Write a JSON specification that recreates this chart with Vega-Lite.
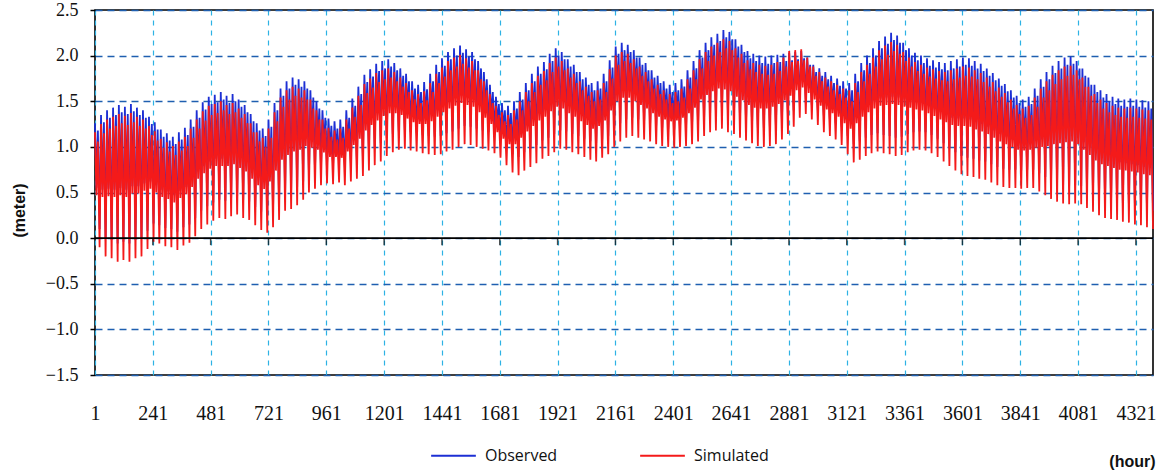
{
"$schema":"https://vega.github.io/schema/vega-lite/v6.json",
"width":1058,"height":365,
"autosize":{"type":"none"},
"padding":{"left":95,"top":10,"right":9,"bottom":96},
"background":"white",
"data":{"values":[
{"t":1,"o":1.26,"s":1.16},{"t":7,"o":0.55,"s":0.47},{"t":13,"o":1.18,"s":1.06},{"t":20,"o":0.1,"s":-0.1},
{"t":26,"o":1.35,"s":1.25},{"t":32,"o":0.53,"s":0.45},{"t":38,"o":1.27,"s":1.15},{"t":45,"o":0.0,"s":-0.2},
{"t":51,"o":1.4,"s":1.3},{"t":57,"o":0.54,"s":0.46},{"t":63,"o":1.32,"s":1.2},{"t":70,"o":-0.02,"s":-0.22},
{"t":76,"o":1.43,"s":1.33},{"t":82,"o":0.53,"s":0.45},{"t":88,"o":1.35,"s":1.23},{"t":95,"o":-0.06,"s":-0.26},
{"t":100,"o":1.46,"s":1.36},{"t":106,"o":0.55,"s":0.47},{"t":112,"o":1.38,"s":1.26},{"t":119,"o":-0.04,"s":-0.24},
{"t":125,"o":1.44,"s":1.34},{"t":131,"o":0.53,"s":0.45},{"t":137,"o":1.36,"s":1.24},{"t":144,"o":-0.06,"s":-0.26},
{"t":150,"o":1.47,"s":1.37},{"t":156,"o":0.57,"s":0.49},{"t":162,"o":1.39,"s":1.27},{"t":169,"o":-0.02,"s":-0.22},
{"t":175,"o":1.43,"s":1.33},{"t":181,"o":0.57,"s":0.49},{"t":187,"o":1.35,"s":1.23},{"t":194,"o":0.0,"s":-0.2},
{"t":200,"o":1.4,"s":1.3},{"t":206,"o":0.6,"s":0.52},{"t":212,"o":1.32,"s":1.2},{"t":219,"o":0.08,"s":-0.12},
{"t":225,"o":1.33,"s":1.23},{"t":231,"o":0.62,"s":0.54},{"t":237,"o":1.25,"s":1.13},{"t":244,"o":0.16,"s":-0.04},
{"t":249,"o":1.27,"s":1.17},{"t":255,"o":0.58,"s":0.5},{"t":261,"o":1.19,"s":1.07},{"t":268,"o":0.14,"s":-0.06},
{"t":274,"o":1.19,"s":1.09},{"t":280,"o":0.53,"s":0.45},{"t":286,"o":1.11,"s":0.99},{"t":293,"o":0.11,"s":-0.09},
{"t":299,"o":1.15,"s":1.05},{"t":305,"o":0.51,"s":0.43},{"t":311,"o":1.07,"s":0.95},{"t":318,"o":0.1,"s":-0.1},
{"t":324,"o":1.11,"s":1.01},{"t":330,"o":0.47,"s":0.39},{"t":336,"o":1.03,"s":0.91},{"t":343,"o":0.07,"s":-0.13},
{"t":349,"o":1.16,"s":1.06},{"t":355,"o":0.52,"s":0.44},{"t":361,"o":1.08,"s":0.96},{"t":368,"o":0.12,"s":-0.08},
{"t":374,"o":1.21,"s":1.11},{"t":380,"o":0.56,"s":0.48},{"t":386,"o":1.13,"s":1.01},{"t":393,"o":0.15,"s":-0.05},
{"t":398,"o":1.3,"s":1.2},{"t":404,"o":0.64,"s":0.56},{"t":410,"o":1.22,"s":1.1},{"t":417,"o":0.22,"s":0.02},
{"t":423,"o":1.4,"s":1.3},{"t":429,"o":0.73,"s":0.65},{"t":435,"o":1.32,"s":1.2},{"t":442,"o":0.3,"s":0.1},
{"t":448,"o":1.49,"s":1.39},{"t":454,"o":0.79,"s":0.71},{"t":460,"o":1.41,"s":1.29},{"t":467,"o":0.35,"s":0.15},
{"t":473,"o":1.55,"s":1.45},{"t":479,"o":0.84,"s":0.76},{"t":485,"o":1.47,"s":1.35},{"t":492,"o":0.39,"s":0.19},
{"t":498,"o":1.57,"s":1.47},{"t":504,"o":0.87,"s":0.79},{"t":510,"o":1.49,"s":1.37},{"t":517,"o":0.42,"s":0.22},
{"t":523,"o":1.6,"s":1.5},{"t":529,"o":0.87,"s":0.79},{"t":535,"o":1.52,"s":1.4},{"t":542,"o":0.41,"s":0.21},
{"t":547,"o":1.56,"s":1.46},{"t":553,"o":0.87,"s":0.79},{"t":559,"o":1.48,"s":1.36},{"t":566,"o":0.44,"s":0.24},
{"t":572,"o":1.58,"s":1.48},{"t":578,"o":0.89,"s":0.81},{"t":584,"o":1.5,"s":1.38},{"t":591,"o":0.46,"s":0.26},
{"t":597,"o":1.52,"s":1.42},{"t":603,"o":0.85,"s":0.77},{"t":609,"o":1.44,"s":1.32},{"t":616,"o":0.42,"s":0.22},
{"t":622,"o":1.46,"s":1.36},{"t":628,"o":0.81,"s":0.73},{"t":634,"o":1.38,"s":1.26},{"t":641,"o":0.4,"s":0.2},
{"t":647,"o":1.36,"s":1.26},{"t":653,"o":0.73,"s":0.65},{"t":659,"o":1.28,"s":1.16},{"t":666,"o":0.34,"s":0.14},
{"t":672,"o":1.26,"s":1.16},{"t":678,"o":0.66,"s":0.58},{"t":684,"o":1.18,"s":1.06},{"t":691,"o":0.29,"s":0.09},
{"t":697,"o":1.2,"s":1.1},{"t":703,"o":0.62,"s":0.54},{"t":709,"o":1.12,"s":1.0},{"t":716,"o":0.26,"s":0.06},
{"t":721,"o":1.3,"s":1.2},{"t":727,"o":0.7,"s":0.62},{"t":733,"o":1.22,"s":1.1},{"t":740,"o":0.32,"s":0.12},
{"t":746,"o":1.48,"s":1.38},{"t":752,"o":0.82,"s":0.74},{"t":758,"o":1.4,"s":1.28},{"t":765,"o":0.4,"s":0.2},
{"t":771,"o":1.64,"s":1.54},{"t":777,"o":0.94,"s":0.86},{"t":783,"o":1.56,"s":1.44},{"t":790,"o":0.5,"s":0.3},
{"t":796,"o":1.72,"s":1.62},{"t":802,"o":0.99,"s":0.91},{"t":808,"o":1.64,"s":1.52},{"t":815,"o":0.52,"s":0.32},
{"t":821,"o":1.76,"s":1.66},{"t":827,"o":1.03,"s":0.95},{"t":833,"o":1.68,"s":1.56},{"t":840,"o":0.56,"s":0.36},
{"t":846,"o":1.74,"s":1.64},{"t":852,"o":1.05,"s":0.97},{"t":858,"o":1.66,"s":1.54},{"t":865,"o":0.62,"s":0.42},
{"t":870,"o":1.72,"s":1.62},{"t":876,"o":1.09,"s":1.01},{"t":882,"o":1.64,"s":1.52},{"t":889,"o":0.7,"s":0.5},
{"t":895,"o":1.62,"s":1.52},{"t":901,"o":1.07,"s":0.99},{"t":907,"o":1.54,"s":1.42},{"t":914,"o":0.74,"s":0.54},
{"t":920,"o":1.5,"s":1.4},{"t":926,"o":1.05,"s":0.97},{"t":932,"o":1.42,"s":1.3},{"t":939,"o":0.78,"s":0.58},
{"t":945,"o":1.4,"s":1.3},{"t":951,"o":1.02,"s":0.94},{"t":957,"o":1.32,"s":1.2},{"t":964,"o":0.8,"s":0.6},
{"t":970,"o":1.31,"s":1.21},{"t":976,"o":0.97,"s":0.89},{"t":982,"o":1.23,"s":1.11},{"t":989,"o":0.79,"s":0.59},
{"t":995,"o":1.28,"s":1.18},{"t":1001,"o":0.97,"s":0.89},{"t":1007,"o":1.2,"s":1.08},{"t":1014,"o":0.81,"s":0.61},
{"t":1019,"o":1.3,"s":1.2},{"t":1025,"o":0.96,"s":0.88},{"t":1031,"o":1.22,"s":1.1},{"t":1038,"o":0.78,"s":0.58},
{"t":1044,"o":1.4,"s":1.3},{"t":1050,"o":1.03,"s":0.95},{"t":1056,"o":1.32,"s":1.2},{"t":1063,"o":0.82,"s":0.62},
{"t":1069,"o":1.53,"s":1.43},{"t":1075,"o":1.1,"s":1.02},{"t":1081,"o":1.45,"s":1.33},{"t":1088,"o":0.85,"s":0.65},
{"t":1094,"o":1.66,"s":1.56},{"t":1100,"o":1.17,"s":1.09},{"t":1106,"o":1.58,"s":1.46},{"t":1113,"o":0.88,"s":0.68},
{"t":1119,"o":1.79,"s":1.69},{"t":1125,"o":1.26,"s":1.18},{"t":1131,"o":1.71,"s":1.59},{"t":1138,"o":0.94,"s":0.74},
{"t":1143,"o":1.85,"s":1.75},{"t":1149,"o":1.32,"s":1.24},{"t":1155,"o":1.77,"s":1.65},{"t":1162,"o":1.0,"s":0.8},
{"t":1168,"o":1.91,"s":1.81},{"t":1174,"o":1.37,"s":1.29},{"t":1180,"o":1.83,"s":1.71},{"t":1187,"o":1.04,"s":0.84},
{"t":1193,"o":1.94,"s":1.84},{"t":1199,"o":1.42,"s":1.34},{"t":1205,"o":1.86,"s":1.74},{"t":1212,"o":1.1,"s":0.9},
{"t":1218,"o":1.96,"s":1.86},{"t":1224,"o":1.45,"s":1.37},{"t":1230,"o":1.88,"s":1.76},{"t":1237,"o":1.14,"s":0.94},
{"t":1243,"o":1.92,"s":1.82},{"t":1249,"o":1.45,"s":1.37},{"t":1255,"o":1.84,"s":1.72},{"t":1262,"o":1.17,"s":0.97},
{"t":1268,"o":1.86,"s":1.76},{"t":1274,"o":1.43,"s":1.35},{"t":1280,"o":1.78,"s":1.66},{"t":1287,"o":1.18,"s":0.98},
{"t":1292,"o":1.8,"s":1.7},{"t":1298,"o":1.39,"s":1.31},{"t":1304,"o":1.72,"s":1.6},{"t":1311,"o":1.16,"s":0.96},
{"t":1317,"o":1.72,"s":1.62},{"t":1323,"o":1.35,"s":1.27},{"t":1329,"o":1.64,"s":1.52},{"t":1336,"o":1.15,"s":0.95},
{"t":1342,"o":1.68,"s":1.58},{"t":1348,"o":1.33,"s":1.25},{"t":1354,"o":1.6,"s":1.48},{"t":1361,"o":1.13,"s":0.93},
{"t":1367,"o":1.71,"s":1.61},{"t":1373,"o":1.33,"s":1.25},{"t":1379,"o":1.63,"s":1.51},{"t":1386,"o":1.12,"s":0.92},
{"t":1392,"o":1.8,"s":1.7},{"t":1398,"o":1.36,"s":1.28},{"t":1404,"o":1.72,"s":1.6},{"t":1411,"o":1.11,"s":0.91},
{"t":1417,"o":1.9,"s":1.8},{"t":1423,"o":1.41,"s":1.33},{"t":1429,"o":1.82,"s":1.7},{"t":1436,"o":1.12,"s":0.92},
{"t":1441,"o":1.97,"s":1.87},{"t":1447,"o":1.46,"s":1.38},{"t":1453,"o":1.89,"s":1.77},{"t":1460,"o":1.15,"s":0.95},
{"t":1466,"o":2.04,"s":1.94},{"t":1472,"o":1.5,"s":1.42},{"t":1478,"o":1.96,"s":1.84},{"t":1485,"o":1.17,"s":0.97},
{"t":1491,"o":2.08,"s":1.98},{"t":1497,"o":1.53,"s":1.45},{"t":1503,"o":2.0,"s":1.88},{"t":1510,"o":1.2,"s":1.0},
{"t":1516,"o":2.11,"s":2.01},{"t":1522,"o":1.56,"s":1.48},{"t":1528,"o":2.03,"s":1.91},{"t":1535,"o":1.23,"s":1.03},
{"t":1541,"o":2.07,"s":1.97},{"t":1547,"o":1.54,"s":1.46},{"t":1553,"o":1.99,"s":1.87},{"t":1560,"o":1.22,"s":1.02},
{"t":1566,"o":2.04,"s":1.94},{"t":1572,"o":1.52,"s":1.44},{"t":1578,"o":1.96,"s":1.84},{"t":1585,"o":1.2,"s":1.0},
{"t":1591,"o":1.94,"s":1.84},{"t":1597,"o":1.46,"s":1.38},{"t":1603,"o":1.86,"s":1.74},{"t":1610,"o":1.18,"s":0.98},
{"t":1615,"o":1.82,"s":1.72},{"t":1621,"o":1.4,"s":1.32},{"t":1627,"o":1.74,"s":1.62},{"t":1634,"o":1.16,"s":0.96},
{"t":1640,"o":1.68,"s":1.58},{"t":1646,"o":1.33,"s":1.25},{"t":1652,"o":1.6,"s":1.48},{"t":1659,"o":1.13,"s":0.93},
{"t":1665,"o":1.55,"s":1.45},{"t":1671,"o":1.24,"s":1.16},{"t":1677,"o":1.47,"s":1.35},{"t":1684,"o":1.08,"s":0.88},
{"t":1690,"o":1.48,"s":1.38},{"t":1696,"o":1.17,"s":1.09},{"t":1702,"o":1.4,"s":1.28},{"t":1709,"o":1.0,"s":0.8},
{"t":1715,"o":1.45,"s":1.35},{"t":1721,"o":1.11,"s":1.03},{"t":1727,"o":1.37,"s":1.25},{"t":1734,"o":0.92,"s":0.72},
{"t":1740,"o":1.5,"s":1.4},{"t":1746,"o":1.11,"s":1.03},{"t":1752,"o":1.42,"s":1.3},{"t":1759,"o":0.89,"s":0.69},
{"t":1764,"o":1.6,"s":1.5},{"t":1770,"o":1.18,"s":1.1},{"t":1776,"o":1.52,"s":1.4},{"t":1783,"o":0.94,"s":0.74},
{"t":1789,"o":1.7,"s":1.6},{"t":1795,"o":1.25,"s":1.17},{"t":1801,"o":1.62,"s":1.5},{"t":1808,"o":0.98,"s":0.78},
{"t":1814,"o":1.8,"s":1.7},{"t":1820,"o":1.31,"s":1.23},{"t":1826,"o":1.72,"s":1.6},{"t":1833,"o":1.02,"s":0.82},
{"t":1839,"o":1.88,"s":1.78},{"t":1845,"o":1.37,"s":1.29},{"t":1851,"o":1.8,"s":1.68},{"t":1858,"o":1.07,"s":0.87},
{"t":1864,"o":1.93,"s":1.83},{"t":1870,"o":1.41,"s":1.33},{"t":1876,"o":1.85,"s":1.73},{"t":1883,"o":1.1,"s":0.9},
{"t":1888,"o":2.02,"s":1.92},{"t":1894,"o":1.47,"s":1.39},{"t":1900,"o":1.94,"s":1.82},{"t":1907,"o":1.14,"s":0.94},
{"t":1913,"o":2.08,"s":1.98},{"t":1919,"o":1.52,"s":1.44},{"t":1925,"o":2.0,"s":1.88},{"t":1932,"o":1.18,"s":0.98},
{"t":1938,"o":2.04,"s":1.94},{"t":1944,"o":1.5,"s":1.42},{"t":1950,"o":1.96,"s":1.84},{"t":1957,"o":1.17,"s":0.97},
{"t":1963,"o":1.96,"s":1.86},{"t":1969,"o":1.45,"s":1.37},{"t":1975,"o":1.88,"s":1.76},{"t":1982,"o":1.14,"s":0.94},
{"t":1988,"o":1.9,"s":1.8},{"t":1994,"o":1.41,"s":1.33},{"t":2000,"o":1.82,"s":1.7},{"t":2007,"o":1.12,"s":0.92},
{"t":2013,"o":1.82,"s":1.72},{"t":2019,"o":1.36,"s":1.28},{"t":2025,"o":1.74,"s":1.62},{"t":2032,"o":1.09,"s":0.89},
{"t":2038,"o":1.76,"s":1.66},{"t":2044,"o":1.32,"s":1.24},{"t":2050,"o":1.68,"s":1.56},{"t":2057,"o":1.06,"s":0.86},
{"t":2062,"o":1.7,"s":1.6},{"t":2068,"o":1.28,"s":1.2},{"t":2074,"o":1.62,"s":1.5},{"t":2081,"o":1.04,"s":0.84},
{"t":2087,"o":1.72,"s":1.62},{"t":2093,"o":1.31,"s":1.23},{"t":2099,"o":1.64,"s":1.52},{"t":2106,"o":1.08,"s":0.88},
{"t":2112,"o":1.8,"s":1.7},{"t":2118,"o":1.37,"s":1.29},{"t":2124,"o":1.72,"s":1.6},{"t":2131,"o":1.12,"s":0.92},
{"t":2137,"o":1.95,"s":1.85},{"t":2143,"o":1.48,"s":1.4},{"t":2149,"o":1.87,"s":1.75},{"t":2156,"o":1.2,"s":1.0},
{"t":2162,"o":2.1,"s":2.0},{"t":2168,"o":1.58,"s":1.5},{"t":2174,"o":2.02,"s":1.9},{"t":2181,"o":1.26,"s":1.06},
{"t":2187,"o":2.14,"s":2.04},{"t":2193,"o":1.62,"s":1.54},{"t":2199,"o":2.06,"s":1.94},{"t":2206,"o":1.3,"s":1.1},
{"t":2212,"o":2.12,"s":2.02},{"t":2218,"o":1.62,"s":1.54},{"t":2224,"o":2.04,"s":1.92},{"t":2231,"o":1.32,"s":1.12},
{"t":2237,"o":2.06,"s":1.96},{"t":2243,"o":1.58,"s":1.5},{"t":2249,"o":1.98,"s":1.86},{"t":2256,"o":1.3,"s":1.1},
{"t":2261,"o":1.98,"s":1.88},{"t":2267,"o":1.54,"s":1.46},{"t":2273,"o":1.9,"s":1.78},{"t":2280,"o":1.28,"s":1.08},
{"t":2286,"o":1.92,"s":1.82},{"t":2292,"o":1.5,"s":1.42},{"t":2298,"o":1.84,"s":1.72},{"t":2305,"o":1.26,"s":1.06},
{"t":2311,"o":1.84,"s":1.74},{"t":2317,"o":1.45,"s":1.37},{"t":2323,"o":1.76,"s":1.64},{"t":2330,"o":1.23,"s":1.03},
{"t":2336,"o":1.78,"s":1.68},{"t":2342,"o":1.41,"s":1.33},{"t":2348,"o":1.7,"s":1.58},{"t":2355,"o":1.21,"s":1.01},
{"t":2361,"o":1.72,"s":1.62},{"t":2367,"o":1.38,"s":1.3},{"t":2373,"o":1.64,"s":1.52},{"t":2380,"o":1.2,"s":1.0},
{"t":2386,"o":1.68,"s":1.58},{"t":2392,"o":1.36,"s":1.28},{"t":2398,"o":1.6,"s":1.48},{"t":2405,"o":1.19,"s":0.99},
{"t":2410,"o":1.7,"s":1.6},{"t":2416,"o":1.37,"s":1.29},{"t":2422,"o":1.62,"s":1.5},{"t":2429,"o":1.2,"s":1.0},
{"t":2435,"o":1.74,"s":1.64},{"t":2441,"o":1.4,"s":1.32},{"t":2447,"o":1.66,"s":1.54},{"t":2454,"o":1.21,"s":1.01},
{"t":2460,"o":1.84,"s":1.74},{"t":2466,"o":1.45,"s":1.37},{"t":2472,"o":1.76,"s":1.64},{"t":2479,"o":1.23,"s":1.03},
{"t":2485,"o":1.94,"s":1.84},{"t":2491,"o":1.51,"s":1.43},{"t":2497,"o":1.86,"s":1.74},{"t":2504,"o":1.26,"s":1.06},
{"t":2510,"o":2.06,"s":1.96},{"t":2516,"o":1.6,"s":1.52},{"t":2522,"o":1.98,"s":1.86},{"t":2529,"o":1.32,"s":1.12},
{"t":2535,"o":2.14,"s":2.04},{"t":2541,"o":1.65,"s":1.57},{"t":2547,"o":2.06,"s":1.94},{"t":2554,"o":1.36,"s":1.16},
{"t":2559,"o":2.2,"s":2.1},{"t":2565,"o":1.69,"s":1.61},{"t":2571,"o":2.12,"s":2.0},{"t":2578,"o":1.38,"s":1.18},
{"t":2584,"o":2.24,"s":2.14},{"t":2590,"o":1.72,"s":1.64},{"t":2596,"o":2.16,"s":2.04},{"t":2603,"o":1.4,"s":1.2},
{"t":2609,"o":2.28,"s":2.18},{"t":2615,"o":1.71,"s":1.63},{"t":2621,"o":2.2,"s":2.08},{"t":2628,"o":1.36,"s":1.16},
{"t":2634,"o":2.26,"s":2.16},{"t":2640,"o":1.69,"s":1.61},{"t":2646,"o":2.18,"s":2.06},{"t":2653,"o":1.34,"s":1.14},
{"t":2659,"o":2.18,"s":2.08},{"t":2665,"o":1.63,"s":1.55},{"t":2671,"o":2.1,"s":1.98},{"t":2678,"o":1.3,"s":1.1},
{"t":2684,"o":2.12,"s":2.02},{"t":2690,"o":1.59,"s":1.51},{"t":2696,"o":2.04,"s":1.92},{"t":2703,"o":1.27,"s":1.07},
{"t":2709,"o":2.05,"s":1.95},{"t":2715,"o":1.54,"s":1.46},{"t":2721,"o":1.97,"s":1.85},{"t":2728,"o":1.24,"s":1.04},
{"t":2733,"o":2.02,"s":1.92},{"t":2739,"o":1.51,"s":1.43},{"t":2745,"o":1.94,"s":1.82},{"t":2752,"o":1.21,"s":1.01},
{"t":2758,"o":2.0,"s":1.9},{"t":2764,"o":1.5,"s":1.42},{"t":2770,"o":1.92,"s":1.8},{"t":2777,"o":1.2,"s":1.0},
{"t":2783,"o":1.99,"s":1.89},{"t":2789,"o":1.5,"s":1.42},{"t":2795,"o":1.91,"s":1.79},{"t":2802,"o":1.21,"s":1.01},
{"t":2808,"o":2.0,"s":1.9},{"t":2814,"o":1.52,"s":1.44},{"t":2820,"o":1.92,"s":1.8},{"t":2827,"o":1.23,"s":1.03},
{"t":2833,"o":2.01,"s":1.93},{"t":2839,"o":1.55,"s":1.47},{"t":2845,"o":1.93,"s":1.83},{"t":2852,"o":1.28,"s":1.08},
{"t":2858,"o":2.02,"s":1.98},{"t":2864,"o":1.59,"s":1.51},{"t":2870,"o":1.94,"s":1.88},{"t":2877,"o":1.34,"s":1.14},
{"t":2882,"o":2.03,"s":2.05},{"t":2888,"o":1.64,"s":1.56},{"t":2894,"o":1.95,"s":1.93},{"t":2901,"o":1.4,"s":1.22},
{"t":2907,"o":2.04,"s":2.06},{"t":2913,"o":1.7,"s":1.62},{"t":2919,"o":1.96,"s":1.94},{"t":2926,"o":1.48,"s":1.32},
{"t":2932,"o":2.05,"s":2.07},{"t":2938,"o":1.73,"s":1.65},{"t":2944,"o":1.97,"s":1.95},{"t":2951,"o":1.52,"s":1.36},
{"t":2957,"o":1.98,"s":1.98},{"t":2963,"o":1.67,"s":1.59},{"t":2969,"o":1.9,"s":1.88},{"t":2976,"o":1.46,"s":1.3},
{"t":2982,"o":1.9,"s":1.88},{"t":2988,"o":1.6,"s":1.52},{"t":2994,"o":1.82,"s":1.78},{"t":3001,"o":1.4,"s":1.24},
{"t":3007,"o":1.86,"s":1.82},{"t":3013,"o":1.53,"s":1.45},{"t":3019,"o":1.78,"s":1.72},{"t":3026,"o":1.34,"s":1.16},
{"t":3032,"o":1.82,"s":1.76},{"t":3038,"o":1.49,"s":1.41},{"t":3044,"o":1.74,"s":1.66},{"t":3051,"o":1.3,"s":1.12},
{"t":3056,"o":1.78,"s":1.72},{"t":3062,"o":1.45,"s":1.37},{"t":3068,"o":1.7,"s":1.62},{"t":3075,"o":1.26,"s":1.08},
{"t":3081,"o":1.75,"s":1.68},{"t":3087,"o":1.41,"s":1.33},{"t":3093,"o":1.67,"s":1.58},{"t":3100,"o":1.22,"s":1.02},
{"t":3106,"o":1.72,"s":1.64},{"t":3112,"o":1.34,"s":1.26},{"t":3118,"o":1.64,"s":1.54},{"t":3125,"o":1.12,"s":0.92},
{"t":3131,"o":1.7,"s":1.62},{"t":3137,"o":1.28,"s":1.2},{"t":3143,"o":1.62,"s":1.5},{"t":3150,"o":1.03,"s":0.83},
{"t":3156,"o":1.8,"s":1.7},{"t":3162,"o":1.34,"s":1.26},{"t":3168,"o":1.72,"s":1.6},{"t":3175,"o":1.06,"s":0.86},
{"t":3181,"o":1.92,"s":1.82},{"t":3187,"o":1.41,"s":1.33},{"t":3193,"o":1.84,"s":1.72},{"t":3200,"o":1.1,"s":0.9},
{"t":3205,"o":2.0,"s":1.9},{"t":3211,"o":1.46,"s":1.38},{"t":3217,"o":1.92,"s":1.8},{"t":3224,"o":1.13,"s":0.93},
{"t":3230,"o":2.08,"s":1.98},{"t":3236,"o":1.5,"s":1.42},{"t":3242,"o":2.0,"s":1.88},{"t":3249,"o":1.15,"s":0.95},
{"t":3255,"o":2.16,"s":2.06},{"t":3261,"o":1.53,"s":1.45},{"t":3267,"o":2.08,"s":1.96},{"t":3274,"o":1.13,"s":0.93},
{"t":3280,"o":2.21,"s":2.11},{"t":3286,"o":1.54,"s":1.46},{"t":3292,"o":2.13,"s":2.01},{"t":3299,"o":1.12,"s":0.92},
{"t":3305,"o":2.25,"s":2.15},{"t":3311,"o":1.55,"s":1.47},{"t":3317,"o":2.17,"s":2.05},{"t":3324,"o":1.1,"s":0.9},
{"t":3330,"o":2.22,"s":2.12},{"t":3336,"o":1.54,"s":1.46},{"t":3342,"o":2.14,"s":2.02},{"t":3349,"o":1.11,"s":0.91},
{"t":3355,"o":2.14,"s":2.04},{"t":3361,"o":1.52,"s":1.44},{"t":3367,"o":2.06,"s":1.94},{"t":3374,"o":1.14,"s":0.94},
{"t":3379,"o":2.08,"s":1.98},{"t":3385,"o":1.51,"s":1.43},{"t":3391,"o":2.0,"s":1.88},{"t":3398,"o":1.16,"s":0.96},
{"t":3404,"o":2.03,"s":1.93},{"t":3410,"o":1.49,"s":1.41},{"t":3416,"o":1.95,"s":1.83},{"t":3423,"o":1.17,"s":0.97},
{"t":3429,"o":2.0,"s":1.9},{"t":3435,"o":1.48,"s":1.4},{"t":3441,"o":1.92,"s":1.8},{"t":3448,"o":1.16,"s":0.96},
{"t":3454,"o":1.97,"s":1.87},{"t":3460,"o":1.45,"s":1.37},{"t":3466,"o":1.89,"s":1.77},{"t":3473,"o":1.13,"s":0.93},
{"t":3479,"o":1.95,"s":1.85},{"t":3485,"o":1.42,"s":1.34},{"t":3491,"o":1.87,"s":1.75},{"t":3498,"o":1.09,"s":0.89},
{"t":3504,"o":1.93,"s":1.83},{"t":3510,"o":1.38,"s":1.3},{"t":3516,"o":1.85,"s":1.73},{"t":3523,"o":1.04,"s":0.84},
{"t":3528,"o":1.92,"s":1.82},{"t":3534,"o":1.35,"s":1.27},{"t":3540,"o":1.84,"s":1.72},{"t":3547,"o":0.99,"s":0.79},
{"t":3553,"o":1.94,"s":1.84},{"t":3559,"o":1.32,"s":1.24},{"t":3565,"o":1.86,"s":1.74},{"t":3572,"o":0.94,"s":0.74},
{"t":3578,"o":1.96,"s":1.86},{"t":3584,"o":1.31,"s":1.23},{"t":3590,"o":1.88,"s":1.76},{"t":3597,"o":0.9,"s":0.7},
{"t":3603,"o":1.98,"s":1.88},{"t":3609,"o":1.31,"s":1.23},{"t":3615,"o":1.9,"s":1.78},{"t":3622,"o":0.88,"s":0.68},
{"t":3628,"o":1.97,"s":1.87},{"t":3634,"o":1.3,"s":1.22},{"t":3640,"o":1.89,"s":1.77},{"t":3647,"o":0.87,"s":0.67},
{"t":3652,"o":1.94,"s":1.84},{"t":3658,"o":1.27,"s":1.19},{"t":3664,"o":1.86,"s":1.74},{"t":3671,"o":0.85,"s":0.65},
{"t":3677,"o":1.91,"s":1.81},{"t":3683,"o":1.25,"s":1.17},{"t":3689,"o":1.83,"s":1.71},{"t":3696,"o":0.84,"s":0.64},
{"t":3702,"o":1.86,"s":1.76},{"t":3708,"o":1.22,"s":1.14},{"t":3714,"o":1.78,"s":1.66},{"t":3721,"o":0.81,"s":0.61},
{"t":3727,"o":1.81,"s":1.71},{"t":3733,"o":1.18,"s":1.1},{"t":3739,"o":1.73,"s":1.61},{"t":3746,"o":0.78,"s":0.58},
{"t":3752,"o":1.75,"s":1.65},{"t":3758,"o":1.14,"s":1.06},{"t":3764,"o":1.67,"s":1.55},{"t":3771,"o":0.76,"s":0.56},
{"t":3777,"o":1.69,"s":1.59},{"t":3783,"o":1.11,"s":1.03},{"t":3789,"o":1.61,"s":1.49},{"t":3796,"o":0.75,"s":0.55},
{"t":3802,"o":1.62,"s":1.52},{"t":3808,"o":1.08,"s":1.0},{"t":3814,"o":1.54,"s":1.42},{"t":3821,"o":0.75,"s":0.55},
{"t":3826,"o":1.56,"s":1.46},{"t":3832,"o":1.05,"s":0.97},{"t":3838,"o":1.48,"s":1.36},{"t":3845,"o":0.74,"s":0.54},
{"t":3851,"o":1.52,"s":1.42},{"t":3857,"o":1.04,"s":0.96},{"t":3863,"o":1.44,"s":1.32},{"t":3870,"o":0.75,"s":0.55},
{"t":3876,"o":1.55,"s":1.45},{"t":3882,"o":1.05,"s":0.97},{"t":3888,"o":1.47,"s":1.35},{"t":3895,"o":0.75,"s":0.55},
{"t":3901,"o":1.64,"s":1.54},{"t":3907,"o":1.07,"s":0.99},{"t":3913,"o":1.56,"s":1.44},{"t":3920,"o":0.71,"s":0.51},
{"t":3926,"o":1.74,"s":1.64},{"t":3932,"o":1.08,"s":1.0},{"t":3938,"o":1.66,"s":1.54},{"t":3945,"o":0.67,"s":0.47},
{"t":3950,"o":1.82,"s":1.72},{"t":3956,"o":1.09,"s":1.01},{"t":3962,"o":1.74,"s":1.62},{"t":3969,"o":0.63,"s":0.43},
{"t":3975,"o":1.89,"s":1.79},{"t":3981,"o":1.11,"s":1.03},{"t":3987,"o":1.81,"s":1.69},{"t":3994,"o":0.6,"s":0.4},
{"t":4000,"o":1.94,"s":1.84},{"t":4006,"o":1.12,"s":1.04},{"t":4012,"o":1.86,"s":1.74},{"t":4019,"o":0.58,"s":0.38},
{"t":4025,"o":1.98,"s":1.88},{"t":4031,"o":1.13,"s":1.05},{"t":4037,"o":1.9,"s":1.78},{"t":4044,"o":0.57,"s":0.37},
{"t":4050,"o":1.99,"s":1.89},{"t":4056,"o":1.14,"s":1.06},{"t":4062,"o":1.91,"s":1.79},{"t":4069,"o":0.58,"s":0.38},
{"t":4075,"o":1.94,"s":1.84},{"t":4081,"o":1.11,"s":1.03},{"t":4087,"o":1.86,"s":1.74},{"t":4094,"o":0.57,"s":0.37},
{"t":4099,"o":1.86,"s":1.76},{"t":4105,"o":1.05,"s":0.97},{"t":4111,"o":1.78,"s":1.66},{"t":4118,"o":0.53,"s":0.33},
{"t":4124,"o":1.76,"s":1.66},{"t":4130,"o":0.99,"s":0.91},{"t":4136,"o":1.68,"s":1.56},{"t":4143,"o":0.49,"s":0.29},
{"t":4149,"o":1.68,"s":1.58},{"t":4155,"o":0.93,"s":0.85},{"t":4161,"o":1.6,"s":1.48},{"t":4168,"o":0.45,"s":0.25},
{"t":4174,"o":1.62,"s":1.52},{"t":4180,"o":0.89,"s":0.81},{"t":4186,"o":1.54,"s":1.42},{"t":4193,"o":0.42,"s":0.22},
{"t":4199,"o":1.58,"s":1.48},{"t":4205,"o":0.87,"s":0.79},{"t":4211,"o":1.5,"s":1.38},{"t":4218,"o":0.41,"s":0.21},
{"t":4224,"o":1.55,"s":1.45},{"t":4230,"o":0.85,"s":0.77},{"t":4236,"o":1.47,"s":1.35},{"t":4243,"o":0.4,"s":0.2},
{"t":4248,"o":1.53,"s":1.43},{"t":4254,"o":0.83,"s":0.75},{"t":4260,"o":1.45,"s":1.33},{"t":4267,"o":0.38,"s":0.18},
{"t":4273,"o":1.52,"s":1.42},{"t":4279,"o":0.82,"s":0.74},{"t":4285,"o":1.44,"s":1.32},{"t":4292,"o":0.37,"s":0.17},
{"t":4298,"o":1.53,"s":1.43},{"t":4304,"o":0.81,"s":0.73},{"t":4310,"o":1.45,"s":1.33},{"t":4317,"o":0.35,"s":0.15},
{"t":4323,"o":1.52,"s":1.42},{"t":4329,"o":0.8,"s":0.72},{"t":4335,"o":1.44,"s":1.32},{"t":4342,"o":0.34,"s":0.14},
{"t":4348,"o":1.51,"s":1.41},{"t":4354,"o":0.78,"s":0.7},{"t":4360,"o":1.43,"s":1.31},{"t":4367,"o":0.32,"s":0.12},
{"t":4373,"o":1.5,"s":1.4},{"t":4379,"o":0.77,"s":0.69},{"t":4385,"o":1.42,"s":1.3},{"t":4392,"o":0.3,"s":0.1}
]},
"layer":[
{"mark":{"type":"line","strokeWidth":1.8,"interpolate":"linear"},
 "encoding":{
  "x":{"field":"t","type":"quantitative","title":"(hour)","scale":{"domain":[1,4392],"nice":false,"zero":false},
   "axis":{"values":[1,241,481,721,961,1201,1441,1681,1921,2161,2401,2641,2881,3121,3361,3601,3841,4081,4321],"format":"d",
    "grid":true,"gridColor":"#2db2e4","gridDash":[5,5],"gridWidth":1.2,"domain":false,"ticks":false,
    "labelFont":"Liberation Serif","labelFontSize":20,"labelColor":"#111","labelPadding":28,"labelFlush":false,
    "titleFont":"Liberation Sans","titleFontSize":16,"titleFontWeight":"bold","titleColor":"#111",
    "titleX":1060,"titleY":86,"titleAlign":"right","titleBaseline":"middle"}},
  "y":{"field":"o","type":"quantitative","title":"(meter)","scale":{"domain":[-1.5,2.5],"nice":false,"zero":false},
   "axis":{"values":[-1.5,-1,-0.5,0,0.5,1,1.5,2,2.5],"format":".1f",
    "grid":true,"gridColor":"#1f5fb0","gridDash":[7,5],"gridWidth":1.5,"domain":false,
    "ticks":true,"tickSize":5,"tickColor":"#000","tickWidth":1.5,
    "labelFont":"Liberation Serif","labelFontSize":18,"labelColor":"#111","labelPadding":12,
    "titleFont":"Liberation Sans","titleFontSize":16,"titleFontWeight":"bold","titleColor":"#111",
    "titleX":-76,"titleY":200,"titleAngle":-90,"titleAlign":"center","titleBaseline":"middle"}},
  "color":{"datum":"Observed","type":"nominal","scale":{"domain":["Observed","Simulated"],"range":["#1c2fd4","#f41a1a"]},"legend":{"title":null}}
 }},
{"mark":{"type":"line","strokeWidth":1.8,"interpolate":"linear"},
 "encoding":{
  "x":{"field":"t","type":"quantitative","title":"(hour)"},
  "y":{"field":"s","type":"quantitative","title":"(meter)","axis":{"labelFont":"Liberation Serif","labelFontSize":18}},
  "color":{"datum":"Simulated","type":"nominal"}
 }},
{"data":{"values":[{"z":0}]},
 "mark":{"type":"rule","color":"#000","strokeWidth":1.6},
 "encoding":{"y":{"field":"z","type":"quantitative","title":"(meter)","axis":{"labelFont":"Liberation Serif","labelFontSize":18}}}},
{"data":{"values":[{"k":241},{"k":481},{"k":721},{"k":961},{"k":1201},{"k":1441},{"k":1681},{"k":1921},{"k":2161},{"k":2401},{"k":2641},{"k":2881},{"k":3121},{"k":3361},{"k":3601},{"k":3841},{"k":4081},{"k":4321}]},
 "mark":{"type":"tick","orient":"vertical","color":"#000","size":7,"thickness":1.5,"yOffset":3.5},
 "encoding":{"x":{"field":"k","type":"quantitative","title":"(hour)"},"y":{"datum":0,"type":"quantitative"}}}
],
"config":{
 "view":{"stroke":"#000","strokeWidth":1.6},
 "axis":{"labelFont":"Liberation Serif"},
 "axisY":{"labelFont":"Liberation Serif","labelFontSize":18},
 "axisQuantitative":{"labelFont":"Liberation Serif"},
 "legend":{"orient":"none","legendX":335,"legendY":422,"direction":"horizontal",
  "symbolType":"stroke","symbolSize":2000,"symbolStrokeWidth":2,
  "labelFont":"Open Sans","labelFontSize":16,"labelColor":"#111","labelOffset":8,"columnPadding":78}
}
}
